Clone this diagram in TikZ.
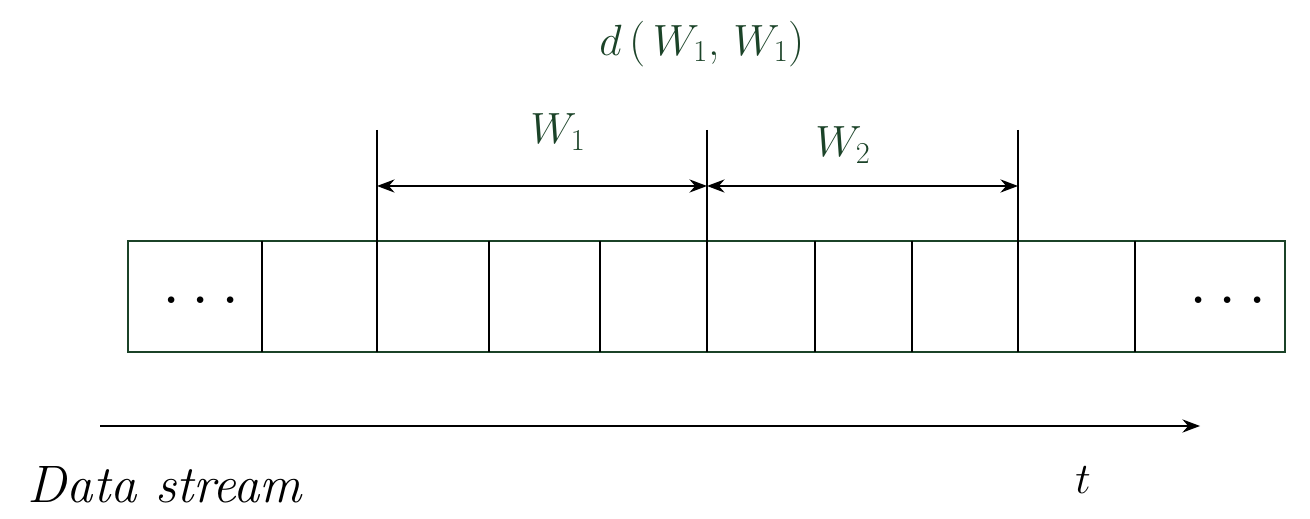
\documentclass[tikz,border=0pt]{standalone}
\usepackage{tikz}
\usetikzlibrary{arrows.meta}
\definecolor{dgreen}{HTML}{1B4328}

\begin{document}
\begin{tikzpicture}[x=0.02cm,y=-0.02cm,
  lbl/.style={text=dgreen,font=\fontsize{26}{30}\selectfont},
  dots/.style={font=\fontsize{26}{30}\selectfont\bfseries}]
  \useasboundingbox (0,0) rectangle (1310,519);
  % stream of cells
  \draw[dgreen,line width=1.2pt] (128,241) rectangle (1285,352);
  \foreach \x in {262,489,600,815,912,1135}
    \draw[line width=1.2pt] (\x,241) -- (\x,352);
  % window borders
  \foreach \x/\n in {377/a,707/b,1018/c} {
    \coordinate (top-\n) at (\x,130);
    \coordinate (mid-\n) at (\x,186);
    \draw[line width=1.2pt] (top-\n) -- (\x,352);
  }
  \node[dots] (ldots) at (201,300) {.\,\,.\,\,.};
  \node[dots] (rdots) at (1228,300) {.\,\,.\,\,.};
  \draw[{Stealth[length=10pt]}-{Stealth[length=10pt]},line width=1pt] (mid-a) -- (mid-b);
  \draw[{Stealth[length=10pt]}-{Stealth[length=10pt]},line width=1pt] (mid-b) -- (mid-c);
  \node[lbl] (w1) at (558,132) {$W_1$};
  \node[lbl] (w2) at (843,145) {$W_2$};
  \node[lbl] (dist) at (702,44) {$d$\,(\,$W_1$, $W_1$)};
  % time axis
  \coordinate (s0) at (100,426);
  \coordinate (s1) at (1200,426);
  \draw[-{Stealth[length=10pt]},line width=1pt] (s0) -- (s1);
  \node[font=\fontsize{30}{34}\selectfont\itshape] (data) at (165,485) {Data stream};
  \node[font=\fontsize{30}{34}\selectfont] (t) at (1083,480) {$t$};
\end{tikzpicture}
\end{document}
